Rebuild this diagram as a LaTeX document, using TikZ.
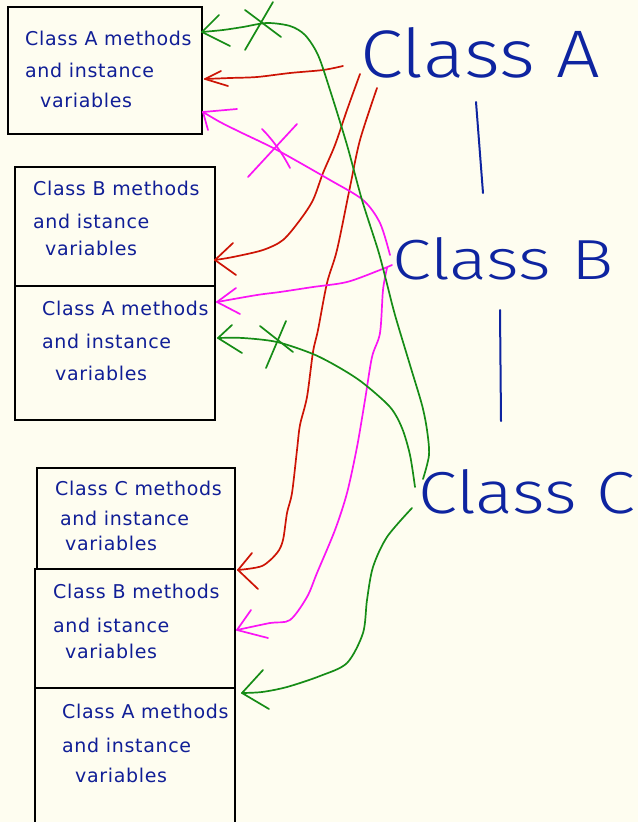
\documentclass[tikz,border=0pt]{standalone}
\usepackage{fontspec}
\setmainfont{DejaVu Sans}
\newfontfamily\notefont[LetterSpace=3.5]{DejaVu Sans}
\newfontfamily\thinfont{Fira Sans Light}
\definecolor{paper}{RGB}{254,253,240}
\definecolor{ink}{RGB}{16,30,150}
\definecolor{ink2}{RGB}{14,36,160}
\definecolor{pgreen}{RGB}{22,140,22}
\definecolor{pred}{RGB}{205,20,5}
\definecolor{pmag}{RGB}{250,20,245}
\begin{document}
\begin{tikzpicture}[x=1pt,y=-1pt,
  cell/.style={draw=black, line width=1.6pt, fill=paper, inner sep=0pt, outer sep=0pt, anchor=north west},
  note/.style={anchor=base west, inner sep=0pt, text=ink, font=\notefont\fontsize{19}{19}\selectfont},
  title/.style={anchor=base west, inner sep=0pt, text=ink2, font=\thinfont},
  pen/.style={line width=1.7pt, line cap=round, line join=round},
  gpen/.style={pen, draw=pgreen},
  rpen/.style={pen, draw=pred},
  mpen/.style={pen, draw=pmag},
  bar/.style={line width=2pt, draw=ink2, line cap=round}]

\fill[paper] (0,0) rectangle (638,822);
\useasboundingbox (0,0) rectangle (638,822);

% ---- object layouts ----
\node[cell, minimum width=194pt, minimum height=127pt] (boxA) at (8,7) {};

\node[cell, minimum width=200pt, minimum height=119pt] (boxBb) at (15,167) {};
\node[cell, minimum width=200pt, minimum height=134pt] (boxBa) at (15,286) {};

\node[cell, minimum width=198pt, minimum height=101pt] (boxCc) at (37,468) {};
\node[cell, minimum width=200pt, minimum height=119pt] (boxCb) at (35,569) {};
\node[cell, minimum width=200pt, minimum height=150pt] (boxCa) at (35,688) {};

% ---- texts inside the layouts ----
\node[note] (a1) at (25,45)  {Class A methods};
\node[note] (a2) at (25,77)  {and instance};
\node[note] (a3) at (40,107) {variables};

\node[note] (b1) at (33,195) {Class B methods};
\node[note] (b2) at (33,228) {and istance};
\node[note] (b3) at (45,255) {variables};
\node[note] (b4) at (42,315) {Class A methods};
\node[note] (b5) at (42,348) {and instance};
\node[note] (b6) at (55,380) {variables};

\node[note] (c1) at (55,495) {Class C methods};
\node[note] (c2) at (60,525) {and instance};
\node[note] (c3) at (65,550) {variables};
\node[note] (c4) at (53,598) {Class B methods};
\node[note] (c5) at (53,632) {and istance};
\node[note] (c6) at (65,658) {variables};
\node[note] (c7) at (62,718) {Class A methods};
\node[note] (c8) at (62,752) {and instance};
\node[note] (c9) at (75,782) {variables};

% ---- class hierarchy ----
\node[title] (lblA) at (360,77)  {\resizebox{240pt}{50pt}{Class A}};
\node[title] (lblB) at (392,279) {\resizebox{221pt}{42pt}{Class B}};
\node[title] (lblC) at (418,513) {\resizebox{217pt}{44pt}{Class C}};

\coordinate (ab1) at (476,102);
\coordinate (ab2) at (483,193);
\coordinate (bc1) at (500,310);
\coordinate (bc2) at (501,421);
\draw[bar] (ab1) -- (ab2);
\draw[bar] (bc1) -- (bc2);

% ---- start and end points of the links ----
\coordinate (rAs) at (343,66);   \coordinate (rAe) at (205,79);
\coordinate (rBs) at (360,74);   \coordinate (rBe) at (215,260);
\coordinate (rCs) at (377,88);   \coordinate (rCe) at (238,570);
\coordinate (mAs) at (390,255);  \coordinate (mAe) at (203,112);
\coordinate (mBs) at (392,265);  \coordinate (mBe) at (217,302);
\coordinate (mCs) at (387,268);  \coordinate (mCe) at (237,630);
\coordinate (gAs) at (423,479);  \coordinate (gAe) at (202,32);
\coordinate (gBs) at (415,487);  \coordinate (gBe) at (218,338);
\coordinate (gCs) at (412,508);  \coordinate (gCe) at (242,693);

% ---- Class A links (red) ----
\draw[rpen] plot[smooth] coordinates {(rAs) (323,70) (290,73) (257,77) (230,78) (rAe)};
\draw[rpen] (rAe) -- ++(16,-8);
\draw[rpen] (rAe) -- ++(23,7);

\draw[rpen] plot[smooth] coordinates {(rBs) (347,110) (335,145) (323,173) (313,200) (300,220) (283,240) (263,250) (233,257) (rBe)};
\draw[rpen] (rBe) -- ++(18,-17);
\draw[rpen] (rBe) -- ++(21,15);

\draw[rpen] plot[smooth] coordinates {(rCs) (360,140) (350,187) (337,250) (327,283) (318,330) (313,352) (307,397) (300,425) (297,450) (292,493) (287,513) (283,540) (277,553) (262,566) (rCe)};
\draw[rpen] (rCe) -- ++(14,-17);
\draw[rpen] (rCe) -- ++(20,19);

% ---- Class B links (magenta) ----
\draw[mpen] plot[smooth] coordinates {(mAs) (380,223) (363,200) (330,180) (277,150) (240,132) (220,122) (mAe)};
\draw[mpen] (mAe) -- ++(34,-3);
\draw[mpen] (mAe) -- ++(5,18);
\draw[mpen] (248,177) -- (297,124);
\draw[mpen] (262,129) .. controls (275,142) and (285,158) .. (290,168);

\draw[mpen] plot[smooth] coordinates {(mBs) (380,270) (347,282) (313,287) (280,292) (257,295) (mBe)};
\draw[mpen] (mBe) -- ++(19,-14);
\draw[mpen] (mBe) -- ++(23,12);

\draw[mpen] plot[smooth] coordinates {(mCs) (383,290) (380,333) (372,357) (365,400) (357,447) (347,493) (335,530) (317,573) (307,597) (290,620) (270,623) (mCe)};
\draw[mpen] (mCe) -- ++(14,-20);
\draw[mpen] (mCe) -- ++(31,8);

% ---- Class C links (green) ----
\draw[gpen] plot[smooth] coordinates {(gAs) (429,455) (427,430) (422,405) (410,365) (395,315) (386,280) (378,250) (362,200) (347,145) (330,90) (318,55) (305,35) (290,26) (267,23) (243,27) (223,30) (gAe)};
\draw[gpen] (gAe) -- ++(17,-17);
\draw[gpen] (gAe) -- ++(28,14);
\draw[gpen] (245,50) -- (273,2);
\draw[gpen] (245,10) -- (281,37);

\draw[gpen] plot[smooth] coordinates {(gBs) (410,455) (402,428) (390,407) (363,383) (340,368) (313,354) (277,342) (243,338) (gBe)};
\draw[gpen] (gBe) -- ++(14,-13);
\draw[gpen] (gBe) -- ++(24,15);
\draw[gpen] (266,368) -- (286,321);
\draw[gpen] (260,326) -- (293,352);

\draw[gpen] plot[smooth] coordinates {(gCs) (387,537) (373,567) (367,600) (363,633) (347,663) (320,676) (287,687) (262,692) (gCe)};
\draw[gpen] (gCe) -- ++(21,-23);
\draw[gpen] (gCe) -- ++(27,16);

\end{tikzpicture}
\end{document}
